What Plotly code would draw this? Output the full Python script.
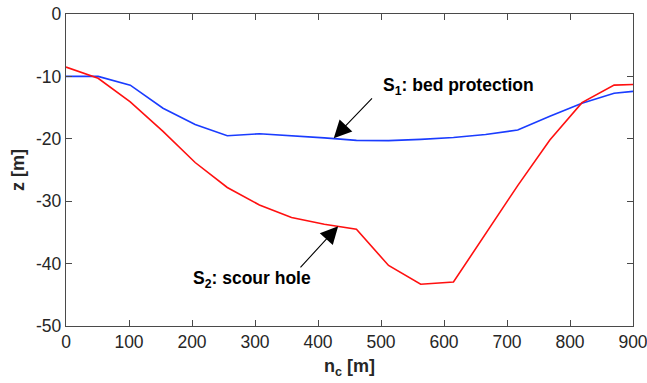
import plotly.graph_objects as go

# distance along cross-section [m]
n_c = [0, 51, 102, 154, 205, 256, 307, 358, 410, 461, 512, 563, 615, 666, 717, 768, 819, 870, 900]
# S1: bed protection [m]
z_bed = [-10.0, -10.0, -11.4, -15.1, -17.7, -19.5, -19.2, -19.5, -19.85, -20.25, -20.3, -20.1,
         -19.8, -19.3, -18.6, -16.4, -14.3, -12.7, -12.4]
# S2: scour hole [m]
z_scour = [-8.5, -10.3, -14.1, -18.8, -23.8, -27.8, -30.6, -32.6, -33.7, -34.5, -40.3, -43.3,
           -42.95, -35.3, -27.5, -20.2, -14.2, -11.4, -11.3]

x_ticks = [0, 100, 200, 300, 400, 500, 600, 700, 800, 900]
y_ticks = [-50, -40, -30, -20, -10, 0]

FONT = "Liberation Sans, Arial, sans-serif"
AX = "#262626"

fig = go.Figure()
fig.add_trace(go.Scatter(x=n_c, y=z_bed, mode="lines",
                         line=dict(color="#1a3cff", width=1.6), showlegend=False))
fig.add_trace(go.Scatter(x=n_c, y=z_scour, mode="lines",
                         line=dict(color="#ff1010", width=1.6), showlegend=False))

# arrows
fig.add_annotation(x=425, y=-19.9, ax=488, ay=-13.3, axref="x", ayref="y",
                   xref="x", yref="y", text="", showarrow=True,
                   arrowhead=2, arrowsize=3.2, arrowwidth=1.1, arrowcolor="black")
fig.add_annotation(x=432, y=-34.0, ax=370, ay=-40.85, axref="x", ayref="y",
                   xref="x", yref="y", text="", showarrow=True,
                   arrowhead=2, arrowsize=3.2, arrowwidth=1.1, arrowcolor="black")
# labels
fig.add_annotation(x=500, y=-11.6, xref="x", yref="y", xanchor="left", yanchor="middle",
                   text="<b>S<sub>1</sub>: bed protection</b>", showarrow=False,
                   font=dict(family=FONT, size=17.5, color="black"))
fig.add_annotation(x=199, y=-42.5, xref="x", yref="y", xanchor="left", yanchor="middle",
                   text="<b>S<sub>2</sub>: scour hole</b>", showarrow=False,
                   font=dict(family=FONT, size=17.5, color="black"))

axis_common = dict(showline=True, linecolor="#4a4a4a", linewidth=1.3, mirror="ticks",
                   ticks="inside", ticklen=6, tickcolor="#4a4a4a", tickwidth=1.2,
                   showgrid=False, zeroline=False, ticklabeloverflow="allow",
                   tickfont=dict(family=FONT, size=17.5, color=AX))

fig.update_xaxes(range=[0, 900], tickvals=x_ticks, ticktext=[str(v) for v in x_ticks],
                 title=dict(text="<b>n<sub>c</sub> [m]</b>", standoff=8,
                            font=dict(family=FONT, size=18, color=AX)),
                 **axis_common)
fig.update_yaxes(range=[-50, 0], tickvals=y_ticks, ticktext=[str(v) for v in y_ticks],
                 title=dict(text="<b>z [m]</b>", standoff=6,
                            font=dict(family=FONT, size=18, color=AX)),
                 **axis_common)

fig.update_layout(width=647, height=383, plot_bgcolor="white", paper_bgcolor="white",
                  margin=dict(l=66, r=14, t=14, b=57, autoexpand=False))

fig.write_html("out.html")
